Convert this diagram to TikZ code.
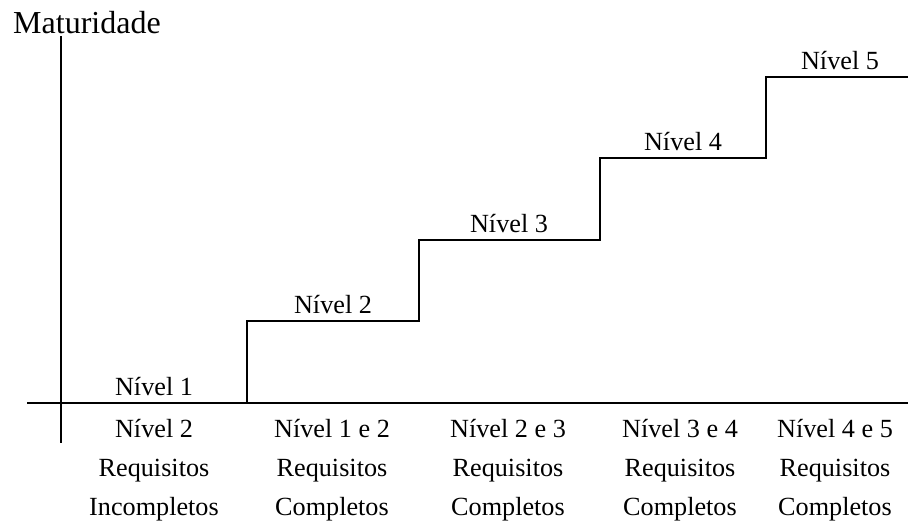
\documentclass[tikz,border=0pt]{standalone}
\usepackage{fontspec}
\setmainfont{Liberation Serif}
\begin{document}
\begin{tikzpicture}[x=1pt,y=-1pt,
  axis/.style={line width=1.8pt},
  stair/.style={line width=1.8pt},
  lbl/.style={anchor=base,inner sep=0pt,font=\fontsize{26.2}{31}\selectfont},
  ttl/.style={anchor=base west,inner sep=0pt,font=\fontsize{32}{38}\selectfont}]
\useasboundingbox (0,0) rectangle (908,525);
% axes
\coordinate (ytop) at (61,36);
\coordinate (ybot) at (61,443);
\coordinate (xl) at (27,403);
\coordinate (xr) at (908,403);
\draw[axis] (ytop) -- (ybot);
\draw[axis] (xl) -- (xr);
\node[ttl] (title) at (13,33) {Maturidade};
% staircase of levels
\coordinate (s1) at (247,403);
\coordinate (s2) at (247,321);
\coordinate (s3) at (419,321);
\coordinate (s4) at (419,240);
\coordinate (s5) at (600,240);
\coordinate (s6) at (600,158);
\coordinate (s7) at (766,158);
\coordinate (s8) at (766,77);
\coordinate (s9) at (908,77);
\draw[stair] (s1) -- (s2) -- (s3) -- (s4) -- (s5) -- (s6) -- (s7) -- (s8) -- (s9);
% level names on the treads
\node[lbl] (n1) at (154,395) {Nível 1};
\node[lbl] (n2) at (333,313) {Nível 2};
\node[lbl] (n3) at (509,232) {Nível 3};
\node[lbl] (n4) at (683,150) {Nível 4};
\node[lbl] (n5) at (840,69) {Nível 5};
% requirements under the axis
\node[lbl] (a1) at (154,437) {Nível 2};
\node[lbl] (b1) at (154,476) {Requisitos};
\node[lbl] (c1) at (154,515) {Incompletos};
\node[lbl] (a2) at (332,437) {Nível 1 e 2};
\node[lbl] (b2) at (332,476) {Requisitos};
\node[lbl] (c2) at (332,515) {Completos};
\node[lbl] (a3) at (508,437) {Nível 2 e 3};
\node[lbl] (b3) at (508,476) {Requisitos};
\node[lbl] (c3) at (508,515) {Completos};
\node[lbl] (a4) at (680,437) {Nível 3 e 4};
\node[lbl] (b4) at (680,476) {Requisitos};
\node[lbl] (c4) at (680,515) {Completos};
\node[lbl] (a5) at (835,437) {Nível 4 e 5};
\node[lbl] (b5) at (835,476) {Requisitos};
\node[lbl] (c5) at (835,515) {Completos};
\end{tikzpicture}
\end{document}
